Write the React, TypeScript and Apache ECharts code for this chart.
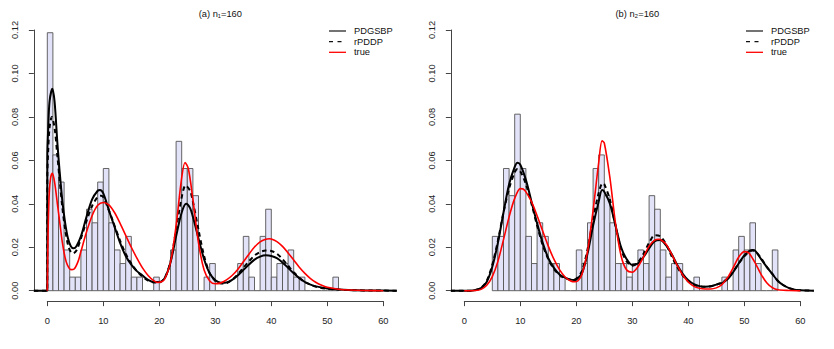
import React, { useEffect, useRef } from "react";
import * as echarts from "echarts";

// ---------- DATA ----------
const sampleSize = 160;
const binWidth = 1;

// Panel (a): histogram counts per unit bin, starting at x = 0
const histStartA = 0;
const histCountsA = [
  19, 10, 8, 3, 1, 1, 3, 6, 5, 8, 9, 5, 3, 2, 4, 1, 1, 0, 0, 1, 0, 0, 3, 11, 9, 9,
  7, 0, 1, 2, 0, 0, 0, 0, 2, 4, 1, 0, 4, 6, 1, 2, 2, 3, 1, 1, 0, 0, 0, 0, 0, 1,
];
// Panel (b): histogram counts per unit bin, starting at x = 5
const histStartB = 5;
const histCountsB = [
  4, 4, 9, 7, 13, 9, 4, 2, 5, 4, 2, 2, 1, 0, 0, 3, 2, 5, 9, 10, 7, 5, 2, 2, 1, 2,
  3, 2, 7, 6, 3, 1, 2, 2, 0, 0, 1, 0, 0, 0, 0, 1, 0, 3, 4, 3, 5, 2, 0, 0, 3,
];

// Panel (a) density curves
const pdgsbpAx = [-2.4, 0, 0, 0.15, 0.4, 0.9, 1.3, 1.8, 2.2, 2.7, 3.2, 3.7, 4.2, 4.7, 5.2, 6, 7, 8, 9, 9.4, 10, 11, 12, 13, 14, 15, 16, 17, 18, 19, 20, 21, 22, 23, 24, 24.8, 25.5, 26, 27, 28, 29, 30, 31, 32, 33, 34, 35, 36, 37, 38, 39, 40, 41, 42, 43, 44, 45, 46, 47, 48, 50, 52, 55, 58, 62.4];
const pdgsbpAy = [0, 0, 0.062, 0.074, 0.087, 0.093, 0.087, 0.068, 0.055, 0.041, 0.031, 0.024, 0.0205, 0.0195, 0.0205, 0.025, 0.034, 0.042, 0.046, 0.0463, 0.0448, 0.037, 0.0295, 0.022, 0.016, 0.012, 0.009, 0.007, 0.005, 0.004, 0.004, 0.006, 0.013, 0.025, 0.036, 0.040, 0.038, 0.034, 0.024, 0.0145, 0.008, 0.0048, 0.0037, 0.0038, 0.005, 0.007, 0.0095, 0.012, 0.0143, 0.0157, 0.0163, 0.016, 0.015, 0.013, 0.0105, 0.008, 0.0058, 0.004, 0.0028, 0.002, 0.001, 0.0006, 0.0002, 0.0001, 0];

const rpddpAx = [-2.4, 0, 0, 0.15, 0.4, 0.8, 1.3, 1.8, 2.2, 2.7, 3.2, 3.7, 4.2, 4.6, 5.2, 6, 7, 8, 9, 9.6, 10, 11, 12, 13, 14, 15, 16, 17, 18, 19, 20, 21, 22, 23, 24, 24.7, 25.5, 26, 27, 28, 29, 30, 31, 32, 33, 34, 35, 36, 37, 38, 39, 40, 41, 42, 43, 44, 45, 46, 47, 48, 50, 52, 55, 58, 62.4];
const rpddpAy = [0, 0, 0.052, 0.064, 0.075, 0.080, 0.075, 0.062, 0.051, 0.038, 0.028, 0.021, 0.0178, 0.0172, 0.0185, 0.024, 0.032, 0.039, 0.0432, 0.0437, 0.043, 0.037, 0.030, 0.023, 0.017, 0.0125, 0.009, 0.0065, 0.0047, 0.0038, 0.0038, 0.006, 0.0135, 0.028, 0.043, 0.0485, 0.046, 0.041, 0.028, 0.016, 0.008, 0.0045, 0.0033, 0.0035, 0.005, 0.0075, 0.0105, 0.0135, 0.0162, 0.0178, 0.0185, 0.0183, 0.017, 0.0145, 0.0115, 0.0085, 0.006, 0.004, 0.0028, 0.0018, 0.0009, 0.0005, 0.0002, 0.0001, 0];

const trueAx = [0, 0.15, 0.35, 0.6, 0.9, 1.3, 1.8, 2.3, 2.7, 3.2, 3.6, 4.2, 4.8, 5.5, 6, 7, 8, 9, 10, 11, 12, 13, 14, 15, 16, 17, 18, 19, 19.7, 20.5, 21, 22, 23, 24, 24.6, 25.2, 26, 27, 28, 29, 30, 31, 32, 33, 34, 35, 36, 37, 38, 39, 39.6, 40, 41, 42, 43, 44, 45, 46, 47, 48, 49, 50, 52, 54, 57, 60];
const trueAy = [0, 0.028, 0.045, 0.052, 0.054, 0.050, 0.040, 0.030, 0.022, 0.015, 0.0118, 0.0097, 0.0100, 0.0135, 0.018, 0.027, 0.0345, 0.0393, 0.0406, 0.0395, 0.036, 0.031, 0.0255, 0.020, 0.015, 0.0105, 0.007, 0.0046, 0.0038, 0.0042, 0.0055, 0.013, 0.030, 0.052, 0.059, 0.056, 0.042, 0.022, 0.0095, 0.0045, 0.0032, 0.0036, 0.005, 0.007, 0.0098, 0.0133, 0.0168, 0.0201, 0.0225, 0.0237, 0.0239, 0.0238, 0.0226, 0.0204, 0.0174, 0.0141, 0.0108, 0.008, 0.0056, 0.0038, 0.0025, 0.0016, 0.0007, 0.0003, 0.0001, 0];

// Panel (b) density curves
const pdgsbpBx = [-2.4, 1, 2, 3, 4, 5, 6, 7, 8, 9, 9.5, 10, 11, 12, 13, 14, 15, 16, 17, 18, 19, 19.5, 20, 21, 22, 23, 24, 24.6, 25, 26, 27, 28, 29, 30, 31, 32, 33, 34, 35, 36, 37, 38, 39, 40, 41, 42, 43, 44, 45, 46, 47, 48, 49, 50, 51, 51.5, 52, 53, 54, 55, 56, 57, 58, 59, 60, 62.4];
const pdgsbpBy = [0, 0, 0.0003, 0.0012, 0.004, 0.011, 0.022, 0.036, 0.049, 0.057, 0.0589, 0.058, 0.051, 0.041, 0.031, 0.022, 0.015, 0.0105, 0.0075, 0.006, 0.0051, 0.0049, 0.0052, 0.008, 0.017, 0.030, 0.041, 0.0463, 0.0455, 0.040, 0.030, 0.020, 0.0145, 0.0118, 0.0125, 0.0155, 0.0195, 0.0228, 0.0233, 0.021, 0.017, 0.012, 0.0078, 0.0048, 0.003, 0.0021, 0.0018, 0.002, 0.0028, 0.0035, 0.0052, 0.0085, 0.0125, 0.0163, 0.0185, 0.0187, 0.0182, 0.0145, 0.011, 0.0077, 0.0045, 0.0025, 0.0012, 0.0005, 0.0002, 0];

const rpddpBx = [-2.4, 1, 2, 3, 4, 5, 6, 7, 8, 9, 9.5, 10, 11, 12, 13, 14, 15, 16, 17, 18, 19, 19.5, 20, 21, 22, 23, 24, 24.7, 25, 26, 27, 28, 29, 30, 31, 32, 33, 34, 35, 36, 37, 38, 39, 40, 41, 42, 43, 44, 45, 46, 47, 48, 49, 50, 51, 51.5, 52, 53, 54, 55, 56, 57, 58, 59, 60, 62.4];
const rpddpBy = [0, 0, 0.0003, 0.0013, 0.0045, 0.012, 0.023, 0.036, 0.047, 0.0545, 0.056, 0.055, 0.049, 0.040, 0.030, 0.021, 0.0145, 0.010, 0.0072, 0.0058, 0.005, 0.005, 0.0055, 0.009, 0.019, 0.033, 0.045, 0.0495, 0.049, 0.042, 0.030, 0.019, 0.0135, 0.0115, 0.013, 0.017, 0.022, 0.0255, 0.025, 0.0215, 0.016, 0.011, 0.007, 0.0042, 0.0027, 0.002, 0.0018, 0.002, 0.0028, 0.0038, 0.0056, 0.0088, 0.0125, 0.0158, 0.0182, 0.0185, 0.018, 0.015, 0.011, 0.0077, 0.0045, 0.0025, 0.0012, 0.0005, 0.0002, 0];

const trueBx = [0, 2, 3, 4, 5, 6, 7, 8, 9, 10, 10.5, 11, 12, 13, 14, 15, 16, 17, 18, 19, 19.7, 20.3, 21, 22, 23, 24, 24.6, 25, 26, 27, 28, 29, 30, 31, 32, 33, 34, 34.7, 35, 36, 37, 38, 39, 40, 41, 42, 43, 44, 45, 46, 47, 48, 49, 50, 50.5, 51, 52, 53, 54, 55, 56, 58, 60];
const trueBy = [0, 0.0001, 0.0006, 0.0025, 0.0065, 0.0135, 0.0235, 0.034, 0.0425, 0.047, 0.0468, 0.0455, 0.041, 0.0345, 0.0275, 0.0205, 0.0145, 0.0097, 0.0063, 0.0045, 0.0041, 0.0046, 0.0075, 0.018, 0.037, 0.059, 0.069, 0.068, 0.052, 0.031, 0.016, 0.0095, 0.0085, 0.011, 0.0155, 0.0205, 0.0233, 0.0237, 0.0236, 0.0215, 0.017, 0.0118, 0.0072, 0.004, 0.002, 0.0011, 0.0008, 0.0008, 0.0013, 0.0028, 0.006, 0.0105, 0.0155, 0.018, 0.0178, 0.0168, 0.0125, 0.0075, 0.0037, 0.0014, 0.0004, 0.0001, 0];

const panelTitles = ["(a) n\u2081=160", "(b) n\u2082=160"];
const seriesNames = ["PDGSBP", "rPDDP", "true"];
const xTickValues = [0, 10, 20, 30, 40, 50, 60];
const yTickValues = [0, 0.02, 0.04, 0.06, 0.08, 0.1, 0.12];

// ---------- LAYOUT ----------
const FONT = "Liberation Sans, Arial, Helvetica, sans-serif";
const PX_PER_X = 5.6;
const PX_PER_Y = 2172.5;
const X_MIN = -2.4;
const X_MAX = 62.4;
const Y_MIN = -0.0048;
const Y_MAX = 0.1248;
const Y0_PIX = 290.7;
const panels = [
  { x0: 47.3, title: panelTitles[0], start: histStartA, counts: histCountsA,
    curves: [[pdgsbpAx, pdgsbpAy], [rpddpAx, rpddpAy], [trueAx, trueAy]], legendX: 329 },
  { x0: 464.3, title: panelTitles[1], start: histStartB, counts: histCountsB,
    curves: [[pdgsbpBx, pdgsbpBy], [rpddpBx, rpddpBy], [trueBx, trueBy]], legendX: 746 },
];

const zip = (xs: number[], ys: number[]) => xs.map((x, i) => [x, ys[i]]);

function buildOption() {
  const grids: any[] = [];
  const xAxes: any[] = [];
  const yAxes: any[] = [];
  const series: any[] = [];
  const titles: any[] = [];
  const graphics: any[] = [];
  const yTop = Y0_PIX - yTickValues[yTickValues.length - 1] * PX_PER_Y;
  const plotTop = Y0_PIX - Y_MAX * PX_PER_Y;
  const plotH = (Y_MAX - Y_MIN) * PX_PER_Y;

  panels.forEach((p, pi) => {
    const gBase = pi * 3;
    const plotLeft = p.x0 + X_MIN * PX_PER_X;
    const plotW = (X_MAX - X_MIN) * PX_PER_X;
    // plot grid
    grids.push({ left: plotLeft, top: plotTop, width: plotW, height: plotH });
    // x axis decoration grid
    grids.push({ left: p.x0 + xTickValues[0] * PX_PER_X, top: plotTop,
      width: (xTickValues[xTickValues.length - 1] - xTickValues[0]) * PX_PER_X, height: plotH });
    // y axis decoration grid
    grids.push({ left: plotLeft, top: yTop, width: plotW, height: Y0_PIX - yTop });

    xAxes.push({ gridIndex: gBase, type: "value", min: X_MIN, max: X_MAX, show: false });
    yAxes.push({ gridIndex: gBase, type: "value", min: Y_MIN, max: Y_MAX, show: false });

    xAxes.push({
      gridIndex: gBase + 1, type: "value", min: xTickValues[0],
      max: xTickValues[xTickValues.length - 1], interval: 10,
      axisLine: { show: true, onZero: false, lineStyle: { color: "#444", width: 1 } },
      axisTick: { show: true, length: 5, lineStyle: { color: "#444", width: 1 } },
      axisLabel: { show: true, margin: 15, color: "#222", fontSize: 9.3, fontFamily: FONT },
      splitLine: { show: false },
    });
    yAxes.push({ gridIndex: gBase + 1, type: "value", min: 0, max: 1, show: false });

    xAxes.push({ gridIndex: gBase + 2, type: "value", min: 0, max: 1, show: false });
    yAxes.push({
      gridIndex: gBase + 2, type: "value", min: yTickValues[0],
      max: yTickValues[yTickValues.length - 1], interval: 0.02,
      axisLine: { show: true, onZero: false, lineStyle: { color: "#444", width: 1 } },
      axisTick: { show: true, length: 5, lineStyle: { color: "#444", width: 1 } },
      axisLabel: { show: true, rotate: 90, margin: 14, color: "#222", fontSize: 9.3,
        fontFamily: FONT, formatter: (v: number) => v.toFixed(2) },
      splitLine: { show: false },
    });

    // histogram
    series.push({
      type: "custom", xAxisIndex: gBase, yAxisIndex: gBase, silent: true,
      data: p.counts.map((c, i) => [p.start + i * binWidth, c / (sampleSize * binWidth)]),
      renderItem: (params: any, api: any) => {
        const x = api.value(0);
        const d = api.value(1);
        const a = api.coord([x, d]);
        const b = api.coord([x + binWidth, 0]);
        if (d <= 0) {
          return { type: "line", shape: { x1: a[0], y1: b[1], x2: b[0], y2: b[1] },
            style: { stroke: "#555", lineWidth: 1 } };
        }
        return { type: "rect", shape: { x: a[0], y: a[1], width: b[0] - a[0], height: b[1] - a[1] },
          style: { fill: "#E2E2F8", stroke: "#555", lineWidth: 0.9 } };
      },
    });

    const styles = [
      { color: "#000", width: 2, type: "solid" },
      { color: "#000", width: 2, type: [4.5, 3.5] },
      { color: "#FF0000", width: 1.6, type: "solid" },
    ];
    p.curves.forEach((c, ci) => {
      series.push({
        type: "line", name: seriesNames[ci], xAxisIndex: gBase, yAxisIndex: gBase,
        data: zip(c[0], c[1]), showSymbol: false, symbol: "none", smooth: 0.3,
        silent: true, lineStyle: styles[ci],
      });
    });

    titles.push({
      text: p.title, left: plotLeft + plotW / 2, top: 4, textAlign: "center",
      textStyle: { fontSize: 9.3, fontWeight: "normal", color: "#111", fontFamily: FONT },
    });

    // legend
    const legendRows = [31, 41.7, 52.3];
    const legendLines = [
      { stroke: "#444", lineWidth: 1.5 },
      { stroke: "#111", lineWidth: 1.3, lineDash: [4, 4.5] },
      { stroke: "#FF0000", lineWidth: 1.3 },
    ];
    legendRows.forEach((y, ri) => {
      graphics.push({
        type: "line", shape: { x1: p.legendX, y1: y, x2: p.legendX + 17, y2: y },
        style: legendLines[ri],
      });
      graphics.push({
        type: "text", x: p.legendX + 25, y: y,
        style: { text: seriesNames[ri], fill: "#111", font: `9.3px ${FONT}`,
          verticalAlign: "middle", textVerticalAlign: "middle", align: "left", textAlign: "left" },
      });
    });
  });

  return {
    animation: false,
    backgroundColor: "#fff",
    title: titles,
    grid: grids,
    xAxis: xAxes,
    yAxis: yAxes,
    series,
    graphic: graphics,
  };
}

export default function App() {
  const ref = useRef<HTMLDivElement>(null);
  useEffect(() => {
    if (!ref.current) return;
    const chart = echarts.init(ref.current, undefined, { renderer: "svg" });
    chart.setOption(buildOption() as any);
    return () => chart.dispose();
  }, []);
  return (
    <div
      ref={ref}
      style={{ position: "fixed", left: 0, top: 0, width: 834, height: 349, background: "#fff" }}
    />
  );
}
